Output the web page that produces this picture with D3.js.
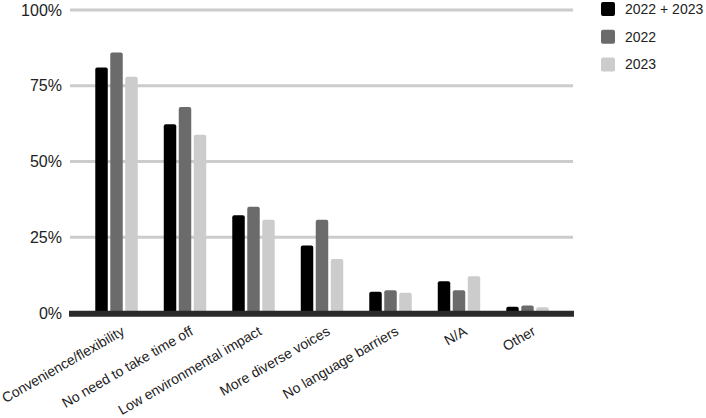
<!DOCTYPE html>
<html>
<head>
<meta charset="utf-8">
<script src="https://cdn.jsdelivr.net/npm/d3@7"></script>
<style>
  html, body { margin: 0; padding: 0; background: #fff; }
  svg { display: block; font-family: "Liberation Sans", Arial, sans-serif; }
</style>
</head>
<body>
<svg id="chart" width="706" height="418"></svg>
<script>
const categories = ["Convenience/flexibility", "No need to take time off", "Low environmental impact",
  "More diverse voices", "No language barriers", "N/A", "Other"];
const seriesNames = ["2022 + 2023", "2022", "2023"];
const values2022and2023 = [81, 62.3, 32.3, 22.3, 7, 10.5, 2.1];
const values2022 = [86, 68, 35.1, 30.8, 7.5, 7.5, 2.5];
const values2023 = [78, 58.8, 30.8, 17.8, 6.7, 12.1, 1.9];
const yTicks = [0, 25, 50, 75, 100];
const colors = ["#000000", "#6b6b6b", "#cccccc"];

const seriesValues = [values2022and2023, values2022, values2023];

const svg = d3.select("#chart");
const plotLeft = 70, plotRight = 574, plotTop = 10, plotBottom = 313;

const x0 = d3.scaleBand().domain(categories).range([plotLeft, plotRight])
  .paddingInner(0.38).paddingOuter(0.369);
const x1 = d3.scaleBand().domain(seriesNames).range([0, x0.bandwidth()])
  .paddingInner(0.167).paddingOuter(0);
const y = d3.scaleLinear().domain([0, 100]).range([plotBottom, plotTop]);

// gridlines
svg.append("g").selectAll("line").data(yTicks.filter(d => d > 0)).join("line")
  .attr("x1", plotLeft).attr("x2", plotRight - 1)
  .attr("y1", d => y(d)).attr("y2", d => y(d))
  .attr("stroke", "#cccccc").attr("stroke-width", 3);

// y labels
const yAxis = d3.axisLeft(y).tickValues(yTicks).tickFormat(d => d + "%").tickSize(0).tickPadding(8);
const ya = svg.append("g").attr("transform", `translate(${plotLeft},0)`).call(yAxis);
ya.select(".domain").remove();
ya.selectAll("text").attr("font-size", 16).attr("fill", "#222")
  .attr("font-family", "'Liberation Sans', Arial, sans-serif");

// bars
const groups = svg.append("g").selectAll("g").data(categories).join("g")
  .attr("transform", d => `translate(${x0(d)},0)`);
groups.selectAll("rect").data((c, i) => seriesNames.map((s, j) => ({ s, v: seriesValues[j][i], j })))
  .join("rect")
  .attr("x", d => x1(d.s))
  .attr("width", x1.bandwidth())
  .attr("y", d => y(d.v))
  .attr("height", d => y(0) - y(d.v) + 3)
  .attr("rx", 2)
  .attr("fill", d => colors[d.j]);

// baseline
svg.append("line").attr("x1", plotLeft - 1).attr("x2", plotRight)
  .attr("y1", y(0) + 0.7).attr("y2", y(0) + 0.7)
  .attr("stroke", "#2b2b2b").attr("stroke-width", 6);

// x labels
const xAxis = d3.axisBottom(x0).tickSize(0);
const xa = svg.append("g").attr("transform", `translate(0,${plotBottom})`).call(xAxis);
xa.select(".domain").remove();
xa.selectAll("text")
  .attr("font-size", 14).attr("fill", "#222")
  .attr("font-family", "'Liberation Sans', Arial, sans-serif")
  .attr("text-anchor", "end")
  .attr("dy", null)
  .attr("y", 0)
  .attr("transform", "translate(9,21) rotate(-30)");

// legend
const legend = svg.append("g").selectAll("g").data(seriesNames).join("g")
  .attr("transform", (d, i) => `translate(601,${2 + i * 27.7})`);
legend.append("rect").attr("width", 14).attr("height", 14).attr("rx", 2)
  .attr("fill", (d, i) => colors[i]);
legend.append("text").attr("x", 24).attr("y", 7).attr("dy", "0.35em")
  .attr("font-size", 14).attr("fill", "#222").text(d => d);
</script>
</body>
</html>
